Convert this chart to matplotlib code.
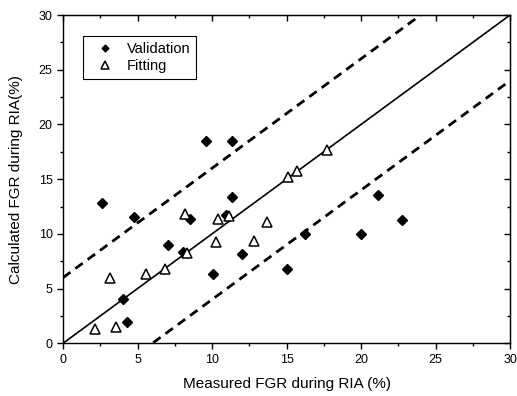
import matplotlib
matplotlib.use("Agg")
import matplotlib.pyplot as plt
from matplotlib.ticker import MultipleLocator

plt.rcParams['font.family'] = ['Liberation Sans', 'DejaVu Sans']

# Validation points (measured, calculated)
val_x = [2.64, 4.77, 9.62, 11.32, 8.52, 7.02, 11.32, 10.96, 16.24, 8.03,
         4.05, 4.27, 12.03, 10.05, 15.05, 20.0, 21.16, 22.73]
val_y = [12.84, 11.56, 18.5, 18.5, 11.38, 9.0, 13.33, 11.75, 9.98, 8.37,
         4.05, 1.92, 8.13, 6.33, 6.79, 10.0, 13.54, 11.26]

# Fitting points
fit_x = [8.19, 17.7, 15.73, 15.12, 10.4, 11.14, 13.72, 10.25, 12.83, 8.34,
         3.15, 5.55, 6.84, 2.15, 3.53]
fit_y = [11.85, 17.65, 15.76, 15.16, 11.38, 11.62, 11.05, 9.22, 9.37, 8.22,
         5.94, 6.33, 6.79, 1.3, 1.46]

# reference lines: y = x and +/- 6 % band
band = 6
line_x = [0, 30]

fig = plt.figure(figsize=(5.17, 3.96), dpi=100)
ax = fig.add_axes([0.1219, 0.1331, 0.8646, 0.8289])

ax.plot(line_x, line_x, color='black', lw=1.2)
ax.plot(line_x, [v + band for v in line_x], color='black', lw=2, ls=(0, (3.3, 2.2)))
ax.plot(line_x, [v - band for v in line_x], color='black', lw=2, ls=(0, (3.3, 2.2)))

ax.plot(val_x, val_y, ls='none', marker='D', ms=4.9, color='black', label='Validation')
ax.plot(fit_x, fit_y, ls='none', marker='^', ms=7.5, mfc='white', mec='black',
        mew=1.1, label='Fitting')

ax.set_xlim(0, 30)
ax.set_ylim(0, 30)
ax.xaxis.set_major_locator(MultipleLocator(5))
ax.xaxis.set_minor_locator(MultipleLocator(2.5))
ax.yaxis.set_major_locator(MultipleLocator(5))
ax.yaxis.set_minor_locator(MultipleLocator(2.5))
ax.tick_params(which='major', direction='out', length=4, width=1, labelsize=9)
ax.tick_params(which='minor', direction='out', length=2, width=1)

# top and right ticks point inward
top = ax.secondary_xaxis('top')
top.xaxis.set_major_locator(MultipleLocator(5))
top.xaxis.set_minor_locator(MultipleLocator(2.5))
top.tick_params(which='major', direction='in', length=4, width=1, labeltop=False)
top.tick_params(which='minor', direction='in', length=2, width=1)
right = ax.secondary_yaxis('right')
right.yaxis.set_major_locator(MultipleLocator(5))
right.yaxis.set_minor_locator(MultipleLocator(2.5))
right.tick_params(which='major', direction='in', length=4, width=1, labelright=False)
right.tick_params(which='minor', direction='in', length=2, width=1)

for s in ax.spines.values():
    s.set_linewidth(1)

ax.set_xlabel('Measured FGR during RIA (%)', fontsize=11, labelpad=8)
ax.set_ylabel('Calculated FGR during RIA(%)', fontsize=11, labelpad=11)

leg = ax.legend(loc='upper left', bbox_to_anchor=(0.045, 0.935), numpoints=1,
                markerscale=0.7, fontsize=10.5, fancybox=False, framealpha=1,
                edgecolor='black', borderpad=0.4, labelspacing=0.2,
                handletextpad=0.4, handlelength=2.2, borderaxespad=0)
leg.get_frame().set_linewidth(0.8)

fig.savefig('out.png', dpi=100)
